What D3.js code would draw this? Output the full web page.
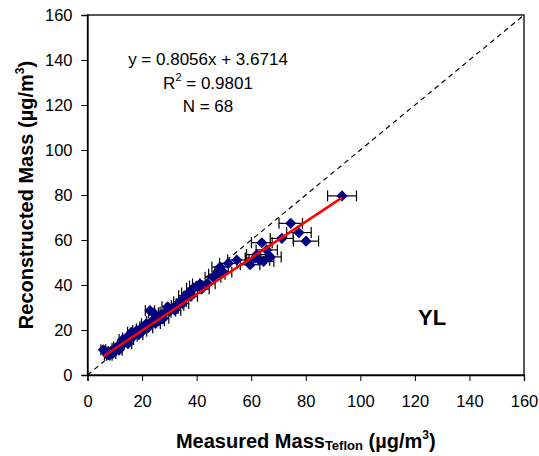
<!DOCTYPE html>
<html><head><meta charset="utf-8">
<script src="https://cdn.jsdelivr.net/npm/d3@7"></script>
<style>body{margin:0;background:#fff}svg{display:block}text{font-family:Arial,"Liberation Sans",sans-serif}</style>
</head><body><svg id="c" width="539" height="456"></svg>
<script>
const measured = [5.8,7.2,7.7,8.0,8.6,9.3,10.1,10.8,11.5,12.2,12.9,13.5,14.2,14.8,15.5,16.1,16.8,17.4,18.1,18.8,19.5,20.1,20.8,21.5,22.2,22.9,23.5,24.2,24.9,25.6,26.3,27.0,27.8,28.6,29.4,30.2,31.0,32.0,33.0,33.9,34.8,35.8,36.9,37.8,38.8,40.0,41.2,41.9,44.0,46.0,47.4,48.6,49.8,51.6,54.7,59.6,61.5,62.0,63.0,63.9,64.5,65.7,67.0,71.2,74.5,77.5,80.1,93.3];
const reconstructed = [11.2,9.0,10.2,8.8,10.5,9.6,11.8,12.5,11.0,13.4,15.8,14.2,16.5,13.9,15.8,19.0,17.2,18.6,19.8,17.9,20.6,19.4,21.5,22.8,21.0,28.6,23.8,27.6,22.9,25.0,24.1,26.7,25.2,27.9,30.3,28.4,29.6,28.8,31.0,32.6,31.8,35.2,36.5,35.0,38.6,39.5,40.4,38.2,40.6,43.5,44.8,48.0,45.8,49.6,51.1,49.0,52.0,53.5,51.0,58.8,50.5,55.6,52.5,60.7,67.4,63.3,59.5,79.6];
const errX = [0.9,1.0,1.0,1.0,1.0,1.1,1.1,1.2,1.2,1.2,1.3,1.3,1.3,1.4,1.4,1.4,1.4,1.5,1.5,1.5,1.6,1.6,1.6,1.7,1.7,1.7,1.8,1.8,1.8,1.9,1.9,1.9,2.0,2.0,2.1,2.1,2.2,2.2,2.3,2.3,2.3,2.4,2.4,2.5,2.5,2.6,2.7,2.7,2.8,2.9,3.0,3.0,3.1,3.2,3.3,3.6,3.7,3.7,3.8,3.8,3.8,3.9,4.0,4.2,4.3,4.5,4.6,5.3];
const slope = 0.8056, intercept = 3.6714;
const xTicks = [0,20,40,60,80,100,120,140,160];
const yTicks = [0,20,40,60,80,100,120,140,160];
const eqLines = ["y = 0.8056x + 3.6714", "R", "N = 68"];

const svg = d3.select("#c");
const L=87.5, R=524, T=15, B=375;
const x = d3.scaleLinear().domain([0,160]).range([L,R]);
const y = d3.scaleLinear().domain([0,160]).range([B,T]);

// frame
svg.append("rect").attr("x",L).attr("y",T).attr("width",R-L).attr("height",B-T)
  .attr("fill","none").attr("stroke","#000").attr("stroke-width",1.3);

// axes
const ax = svg.append("g").attr("transform",`translate(0,${B})`)
  .call(d3.axisBottom(x).tickValues(xTicks).tickSize(6).tickPadding(14).tickFormat(d3.format("d")));
const ay = svg.append("g").attr("transform",`translate(${L},0)`)
  .call(d3.axisLeft(y).tickValues(yTicks).tickSize(6).tickPadding(9).tickFormat(d3.format("d")));
[ax,ay].forEach(g=>{
  g.select(".domain").attr("stroke","#000").attr("stroke-width",1.3);
  g.selectAll(".tick line").attr("stroke","#000");
  g.selectAll(".tick text").attr("font-size",16.5).attr("fill","#000").attr("font-family","Arial, 'Liberation Sans', sans-serif");
});

// 1:1 dashed line
svg.append("line").attr("x1",x(0)).attr("y1",y(0)).attr("x2",x(160)).attr("y2",y(160))
  .attr("stroke","#000").attr("stroke-width",1.2).attr("stroke-dasharray","5,4");

const pts = measured.map((m,i)=>({m, r:reconstructed[i], e:errX[i]}));

// error bars
const eb = svg.append("g").attr("stroke","#000").attr("stroke-width",1.2);
pts.forEach(p=>{
  eb.append("line").attr("x1",x(p.m-p.e)).attr("x2",x(p.m+p.e)).attr("y1",y(p.r)).attr("y2",y(p.r));
  [p.m-p.e,p.m+p.e].forEach(v=>eb.append("line").attr("x1",x(v)).attr("x2",x(v)).attr("y1",y(p.r)-5.5).attr("y2",y(p.r)+5.5));
});

// markers (diamonds)
const sym = d3.symbol().type(d3.symbolSquare).size(62);
svg.append("g").selectAll("path").data(pts).join("path")
  .attr("d",sym).attr("transform",d=>`translate(${x(d.m)},${y(d.r)}) rotate(45)`)
  .attr("fill","#000080");

// regression line
const xmin = d3.min(measured), xmax = d3.max(measured);
svg.append("line").attr("x1",x(xmin)).attr("y1",y(slope*xmin+intercept))
  .attr("x2",x(xmax)).attr("y2",y(slope*xmax+intercept))
  .attr("stroke","#ff0000").attr("stroke-width",2.5);

// equation text
const eq = svg.append("g").attr("font-size",17).attr("text-anchor","middle").attr("fill","#000");
eq.append("text").attr("x",208).attr("y",65).text(eqLines[0]);
const t2 = eq.append("text").attr("x",208).attr("y",89);
t2.append("tspan").text(eqLines[1]);
t2.append("tspan").attr("font-size",11).attr("dy",-8).text("2");
t2.append("tspan").attr("dy",8).text(" = 0.9801");
eq.append("text").attr("x",208).attr("y",112).text(eqLines[2]);

// site label
svg.append("text").attr("x",418).attr("y",325).attr("font-size",22).attr("font-weight","bold").text("YL");

// axis titles
const xt = svg.append("text").attr("x",(L+R)/2).attr("y",448).attr("text-anchor","middle")
  .attr("font-size",20).attr("font-weight","bold");
xt.append("tspan").text("Measured Mass");
xt.append("tspan").attr("font-size",13).attr("dy",2).text("Teflon");
xt.append("tspan").attr("dy",-2).text(" (\u00b5g/m");
xt.append("tspan").attr("font-size",12).attr("dy",-9).text("3");
xt.append("tspan").attr("dy",9).text(")");

const yt = svg.append("text").attr("transform",`translate(33,${(T+B)/2}) rotate(-90)`).attr("text-anchor","middle")
  .attr("font-size",20).attr("font-weight","bold");
yt.append("tspan").text("Reconstructed Mass (\u00b5g/m");
yt.append("tspan").attr("font-size",12).attr("dy",-9).text("3");
yt.append("tspan").attr("dy",9).text(")");
</script></body></html>
